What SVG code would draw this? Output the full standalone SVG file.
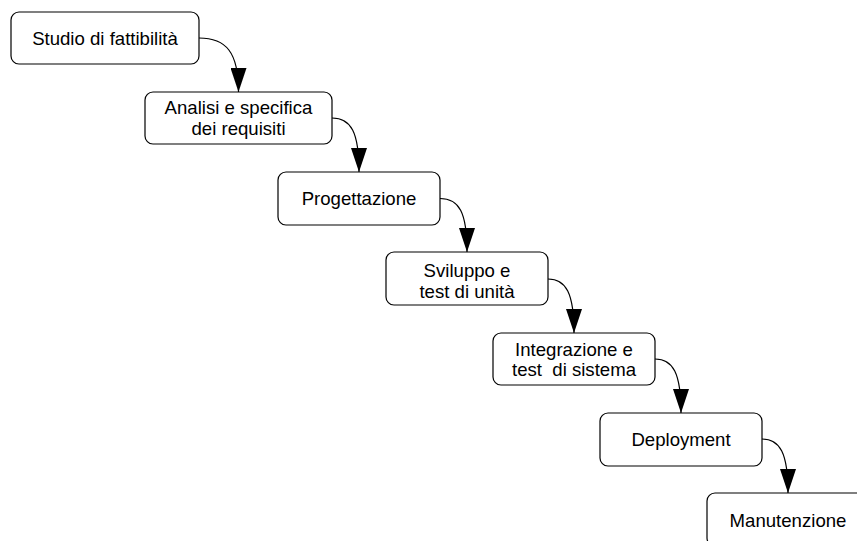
<svg xmlns="http://www.w3.org/2000/svg" width="857" height="541" viewBox="0 0 857 541">
  <style>
    .box { fill: #ffffff; stroke: #000000; stroke-width: 1.2; }
    .lbl { font-family: "Liberation Sans", Arial, sans-serif; font-size: 18.6px; fill: #000000; text-anchor: middle; }
    .link { fill: none; stroke: #000000; stroke-width: 1.2; }
  </style>
  <defs>
    <marker id="arrow" viewBox="0 0 24 16" refX="24" refY="8" markerWidth="24" markerHeight="16" markerUnits="userSpaceOnUse" orient="auto">
      <path d="M0,0 L24,8 L0,16 Z" fill="#000000"/>
    </marker>
  </defs>
  <rect width="857" height="541" fill="#ffffff"/>

  <g id="connectors">
    <path class="link" d="M199 38 C226 38 238.5 52 238.5 92" marker-end="url(#arrow)"/>
    <path class="link" d="M332 118 C351 118 359 132 359 172" marker-end="url(#arrow)"/>
    <path class="link" d="M440 198.5 C459 198.5 467 212 467 252" marker-end="url(#arrow)"/>
    <path class="link" d="M548 279 C566 279 574 293 574 333" marker-end="url(#arrow)"/>
    <path class="link" d="M655 359 C673 359 681 373 681 413" marker-end="url(#arrow)"/>
    <path class="link" d="M762 439 C780 439 788 453 788 493" marker-end="url(#arrow)"/>
  </g>

  <g id="studio">
    <rect class="box" x="11" y="12" width="188" height="52" rx="8"/>
    <text class="lbl" x="105" y="44.5">Studio di fattibilità</text>
  </g>

  <g id="analisi">
    <rect class="box" x="145" y="92" width="187" height="52" rx="8"/>
    <text class="lbl" x="238.5" y="114">Analisi e specifica</text>
    <text class="lbl" x="238.5" y="135">dei requisiti</text>
  </g>

  <g id="progettazione">
    <rect class="box" x="278" y="172" width="162" height="53" rx="8"/>
    <text class="lbl" x="359" y="205">Progettazione</text>
  </g>

  <g id="sviluppo">
    <rect class="box" x="386" y="252" width="162" height="53" rx="8"/>
    <text class="lbl" x="467" y="276.5">Sviluppo e</text>
    <text class="lbl" x="467" y="297.5">test di unità</text>
  </g>

  <g id="integrazione">
    <rect class="box" x="493" y="333" width="162" height="52" rx="8"/>
    <text class="lbl" x="574" y="355.5">Integrazione e</text>
    <text class="lbl" x="574" y="376" style="white-space:pre" xml:space="preserve">test  di sistema</text>
  </g>

  <g id="deployment">
    <rect class="box" x="600" y="413" width="162" height="53" rx="8"/>
    <text class="lbl" x="681" y="446">Deployment</text>
  </g>

  <g id="manutenzione">
    <rect class="box" x="707" y="493" width="162" height="53" rx="8"/>
    <text class="lbl" x="788" y="527">Manutenzione</text>
  </g>
</svg>
